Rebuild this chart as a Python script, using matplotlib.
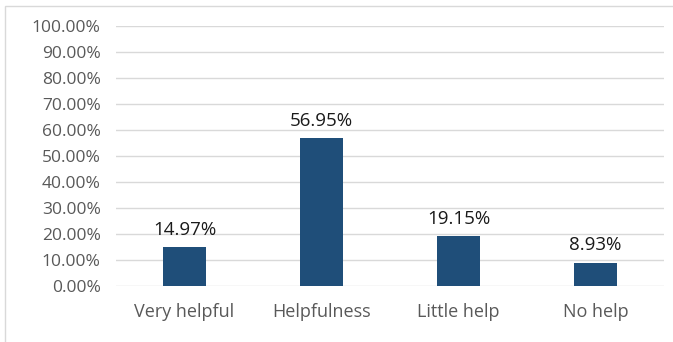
import matplotlib.pyplot as plt
from matplotlib.patches import Rectangle
from matplotlib.ticker import FuncFormatter, MultipleLocator

categories = ["Very helpful", "Helpfulness", "Little help", "No help"]
values = [14.97, 56.95, 19.15, 8.93]

plt.rcParams["font.family"] = ["Open Sans", "DejaVu Sans"]

fig = plt.figure(figsize=(6.73, 3.42), dpi=100)
ax = fig.add_axes([116 / 673, 1 - 286 / 342, 548 / 673, 260 / 342])

x = range(len(categories))
ax.bar(x, values, width=0.31, color="#1F4E79", zorder=3)

for xi, v in zip(x, values):
    ax.annotate(f"{v:.2f}%", (xi, v), xytext=(0, 6), textcoords="offset points",
                ha="center", va="bottom", fontsize=13.5, color="#1a1a1a")

ax.set_xlim(-0.5, len(categories) - 0.5)
ax.set_ylim(0, 100)
ax.yaxis.set_major_locator(MultipleLocator(10))
ax.yaxis.set_major_formatter(FuncFormatter(lambda v, p: f"{v:.2f}%"))
ax.set_xticks(list(x))
ax.set_xticklabels(categories)

ax.grid(axis="y", color="#D9D9D9", linewidth=1, zorder=0)
for s in ax.spines.values():
    s.set_visible(False)
ax.tick_params(axis="both", length=0, colors="#595959")
ax.tick_params(axis="y", pad=11, labelsize=12.5)
ax.tick_params(axis="x", pad=12, labelsize=13)

# outer chart frame
fig.patches.append(Rectangle((5 / 673, -0.1), 1.1, 1.1 - 6 / 342,
                             transform=fig.transFigure, fill=False,
                             edgecolor="#D9D9D9", linewidth=1))

fig.savefig("out.png", dpi=100)
